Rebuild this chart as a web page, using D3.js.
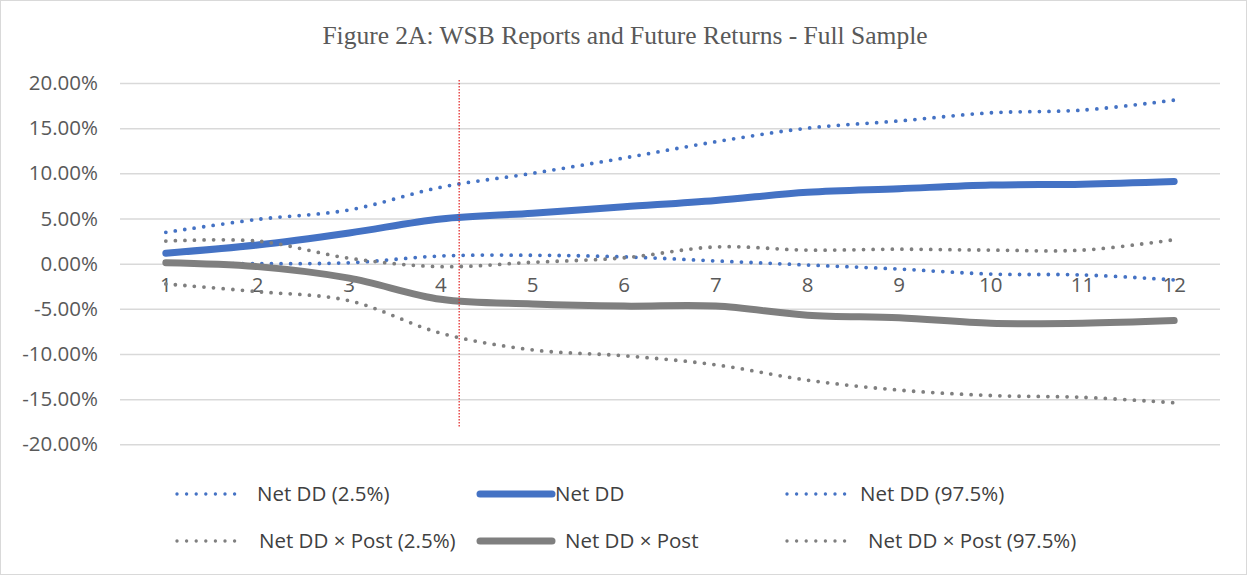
<!DOCTYPE html>
<html><head><meta charset="utf-8">
<script src="https://cdn.jsdelivr.net/npm/d3@7"></script>
<style>html,body{margin:0;padding:0;background:#fff;}svg{display:block;}</style>
</head><body>
<script>
const categories = ["1","2","3","4","5","6","7","8","9","10","11","12"];
const netDD_lo   = [0.000, 0.000, 0.001, 0.0085, 0.0093, 0.0075, 0.003, -0.0015, -0.006, -0.0115, -0.0125, -0.018];
const netDD      = [0.0115, 0.0207, 0.0340, 0.0495, 0.0558, 0.063, 0.070, 0.079, 0.083, 0.087, 0.088, 0.091];
const netDD_hi   = [0.0347, 0.049, 0.0595, 0.0846, 0.100, 0.117, 0.135, 0.150, 0.158, 0.167, 0.170, 0.181];
const post_lo    = [-0.0225, -0.031, -0.041, -0.077, -0.0955, -0.102, -0.112, -0.129, -0.140, -0.146, -0.148, -0.154];
const post       = [0.001, -0.0033, -0.016, -0.0395, -0.0446, -0.047, -0.047, -0.057, -0.060, -0.066, -0.066, -0.063];
const post_hi    = [0.025, 0.025, 0.006, -0.0033, 0.0015, 0.0065, 0.0185, 0.015, 0.016, 0.015, 0.015, 0.0265];
const yTicks = [0.20, 0.15, 0.10, 0.05, 0.00, -0.05, -0.10, -0.15, -0.20];
const yTickLabels = ["20.00%","15.00%","10.00%","5.00%","0.00%","-5.00%","-10.00%","-15.00%","-20.00%"];
const eventPeriod = 4.2;
const titleText = "Figure 2A: WSB Reports and Future Returns - Full Sample";

const series = [
  {name:"Net DD (2.5%)", values: netDD_lo, color:"#4472C4", dotted:true},
  {name:"Net DD", values: netDD, color:"#4472C4", dotted:false},
  {name:"Net DD (97.5%)", values: netDD_hi, color:"#4472C4", dotted:true},
  {name:"Net DD \u00d7 Post (2.5%)", values: post_lo, color:"#7F7F7F", dotted:true},
  {name:"Net DD \u00d7 Post", values: post, color:"#7F7F7F", dotted:false},
  {name:"Net DD \u00d7 Post (97.5%)", values: post_hi, color:"#7F7F7F", dotted:true}
];

const W = 1247, H = 575;
const svg = d3.select("body").append("svg").attr("width", W).attr("height", H);
svg.append("rect").attr("x",0.5).attr("y",0.5).attr("width",W-1).attr("height",H-1)
  .attr("fill","#fff").attr("stroke","#d9d9d9");

const plot = {left:120, right:1220, top:83, bottom:444.3};
const x = d3.scaleBand().domain(categories).range([plot.left, plot.right]).padding(0);
const xc = c => x(c) + x.bandwidth()/2;
const xLin = d3.scaleLinear().domain([1, categories.length]).range([xc(categories[0]), xc(categories[categories.length-1])]);
const y = d3.scaleLinear().domain([-0.2, 0.2]).range([plot.bottom, plot.top]);

// title
svg.append("text").attr("x", 625).attr("y", 44).attr("text-anchor","middle")
  .attr("font-family","'Liberation Serif', serif").attr("font-size", 25.5).attr("fill","#595959")
  .text(titleText);

// gridlines
const yAxis = d3.axisLeft(y).tickValues(yTicks).tickSize(-(plot.right-plot.left))
  .tickFormat((d,i)=>yTickLabels[i]).tickPadding(22);
const gy = svg.append("g").attr("transform",`translate(${plot.left},0)`).call(yAxis);
gy.select(".domain").remove();
gy.selectAll(".tick line").attr("stroke","#d9d9d9").attr("stroke-width",1.5);
gy.selectAll(".tick text").attr("font-family","'Open Sans', sans-serif").attr("font-size",20.5).attr("fill","#595959");

// x axis labels at zero line
const xAxis = d3.axisBottom(x).tickSize(0).tickPadding(14);
const gx = svg.append("g").attr("transform",`translate(0,${y(0)})`).call(xAxis);
gx.select(".domain").remove();
gx.selectAll(".tick text").attr("font-family","'Open Sans', sans-serif").attr("font-size",20.5).attr("fill","#595959");

// lines
const line = d3.line().x((d,i)=>xc(categories[i])).y(d=>y(d)).curve(d3.curveCatmullRom.alpha(0.5));
series.forEach(s=>{
  const p = svg.append("path").datum(s.values).attr("d", line).attr("fill","none")
    .attr("stroke", s.color).attr("stroke-linecap","round").attr("stroke-linejoin","round");
  if (s.dotted) p.attr("stroke-width",3.8).attr("stroke-dasharray","0 9.6");
  else p.attr("stroke-width",7);
});

// red event line
svg.append("line").attr("x1", xLin(eventPeriod)).attr("x2", xLin(eventPeriod))
  .attr("y1", 80).attr("y2", 428).attr("stroke","#e02020").attr("stroke-width",1.2)
  .attr("stroke-dasharray","1.5 1.5");

// legend
const legendPos = [
  {sx:175, tx:257, y:494}, {sx:480, tx:555, y:494}, {sx:785, tx:860, y:494},
  {sx:175, tx:259, y:541}, {sx:480, tx:565, y:541}, {sx:785, tx:868, y:541}
];
series.forEach((s,i)=>{
  const lp = legendPos[i];
  const g = svg.append("g");
  const ln = g.append("line").attr("x1", lp.sx+ (s.dotted?2:0)).attr("x2", lp.sx + (s.dotted?62:72))
    .attr("y1", lp.y).attr("y2", lp.y).attr("stroke", s.color).attr("stroke-linecap","round");
  if (s.dotted) ln.attr("stroke-width",3.4).attr("stroke-dasharray","0 9.6");
  else ln.attr("stroke-width",7);
  g.append("text").attr("x", lp.tx).attr("y", lp.y).attr("dy","0.35em")
    .attr("font-family","'Open Sans', sans-serif").attr("font-size",20.5).attr("fill","#404040")
    .text(s.name);
});
</script>
</body></html>
